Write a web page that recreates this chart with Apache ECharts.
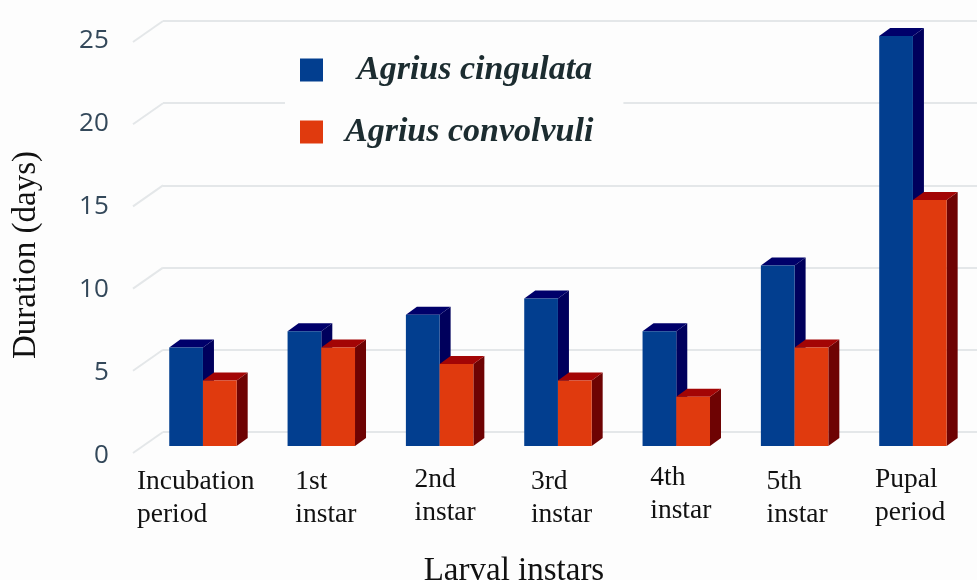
<!DOCTYPE html>
<html>
<head>
<meta charset="utf-8">
<style>
  html, body { margin: 0; padding: 0; background: #fdfdfd; }
  #chart { width: 977px; height: 580px; }
</style>
<script src="https://cdn.jsdelivr.net/npm/echarts@6/dist/echarts.min.js"></script>
</head>
<body>
<div id="chart"></div>
<script>
const categories = ["Incubation\nperiod", "1st\ninstar", "2nd\ninstar", "3rd\ninstar", "4th\ninstar", "5th\ninstar", "Pupal\nperiod"];
const cingulata = [6, 7, 8, 9, 7, 11, 25];
const convolvuli = [4, 6, 5, 4, 3, 6, 15];
const yTicks = [0, 5, 10, 15, 20, 25];
const labelLeft = [0, 40, 41, 39, 40, 38, 28];
const labelTop = [4, 4, 2, 4, 0, 4, 2];

const serif = "Liberation Serif";
const gridColor = "#e4e7e9";
const chart = echarts.init(document.getElementById("chart"));

// front face plus the two extruded faces of a bar
function barItem(side, colors) {
  return function (params, api) {
    const base = api.coord([api.value(0), 0]);
    const top = api.coord([api.value(0), api.value(1)]);
    const width = api.size([1, 0])[0] * 0.285;
    const x0 = side < 0 ? base[0] - width : base[0];
    const x1 = x0 + width;
    const dx = 11;
    const dy = 8;
    const face = (points, fill) => ({ type: "polygon", shape: { points }, style: { fill } });
    return {
      type: "group",
      children: [
        face([[x1, top[1]], [x1 + dx, top[1] - dy], [x1 + dx, base[1] - dy], [x1, base[1]]], colors.side),
        face([[x0, top[1]], [x0 + dx, top[1] - dy], [x1 + dx, top[1] - dy], [x1, top[1]]], colors.top),
        face([[x0, top[1]], [x1, top[1]], [x1, base[1]], [x0, base[1]]], colors.front),
      ],
    };
  };
}

// slanted stub of the chart floor/wall on the left of each grid line
function slantItem(params, api) {
  const start = api.coord([0, api.value(0)]);
  return {
    type: "line",
    shape: { x1: start[0], y1: start[1], x2: start[0] - 30, y2: start[1] + 21 },
    style: { stroke: gridColor, lineWidth: 2 },
  };
}

function hiddenY(gridIndex, extra) {
  return { type: "value", gridIndex, min: 0, max: 25, interval: 5, axisLine: { show: false }, axisTick: { show: false }, axisLabel: { show: false }, splitLine: { show: false }, ...extra };
}

chart.setOption({
  animation: false,
  backgroundColor: "#fdfdfd",
  legend: {
    left: 285,
    top: 45,
    orient: "vertical",
    padding: [8, 30, 8, 15],
    backgroundColor: "#fdfdfd",
    itemWidth: 23,
    itemHeight: 23,
    itemGap: 28,
    icon: "rect",
    textStyle: { fontFamily: serif, fontStyle: "italic", fontWeight: "bold", fontSize: 34, color: "#1c2c30" },
    data: [
      { name: "Agrius cingulata", textStyle: { padding: [0, 0, 16, 29] } },
      { name: "Agrius convolvuli", textStyle: { padding: [6, 0, 0, 17] } },
    ],
  },
  grid: [
    { left: 143.8, width: 828.3, top: 36, height: 410, outerBoundsMode: "none" },
    { left: 163, right: 0, top: 21, height: 411, outerBoundsMode: "none" },
    { left: 77.8, width: 828.3, top: 41, height: 415, outerBoundsMode: "none" },
  ],
  xAxis: [
    { type: "category", gridIndex: 0, data: categories, show: false },
    { type: "value", gridIndex: 1, min: 0, max: 1, show: false },
    {
      type: "category",
      gridIndex: 2,
      data: categories.map((value, i) => ({ value, textStyle: { align: "left", padding: [labelTop[i], 0, 0, labelLeft[i]] } })),
      axisLine: { show: false },
      axisTick: { show: false },
      axisLabel: { interval: 0, align: "left", margin: 5, fontFamily: serif, fontSize: 27.5, lineHeight: 33, color: "#111" },
      name: "Larval instars",
      nameLocation: "middle",
      nameGap: 99,
      nameTextStyle: { fontFamily: serif, fontSize: 33, color: "#111", padding: [0, 0, 0, 44] },
    },
  ],
  yAxis: [
    hiddenY(0),
    hiddenY(1, { splitLine: { show: true, lineStyle: { color: gridColor, width: 2 } } }),
    hiddenY(2, {
      offset: -37,
      axisLabel: { show: true, margin: 6, fontFamily: "Open Sans", fontSize: 26, color: "#33485a" },
      name: "Duration (days)",
      nameLocation: "middle",
      nameGap: 72,
      nameTextStyle: { fontFamily: serif, fontSize: 33, color: "#111", padding: [0, 13, 0, 0] },
    }),
  ],
  series: [
    { type: "custom", xAxisIndex: 1, yAxisIndex: 1, silent: true, clip: false, z: 1, data: yTicks, renderItem: slantItem, encode: { y: 0 } },
    {
      name: "Agrius cingulata",
      type: "custom",
      xAxisIndex: 0,
      yAxisIndex: 0,
      z: 3,
      itemStyle: { color: "#023e8f" },
      data: cingulata.map((v, i) => [i, v]),
      encode: { x: 0, y: 1 },
      renderItem: barItem(-1, { front: "#023e8f", top: "#00006a", side: "#00005c" }),
    },
    {
      name: "Agrius convolvuli",
      type: "custom",
      xAxisIndex: 0,
      yAxisIndex: 0,
      z: 4,
      itemStyle: { color: "#e03a0e" },
      data: convolvuli.map((v, i) => [i, v]),
      encode: { x: 0, y: 1 },
      renderItem: barItem(1, { front: "#e03a0e", top: "#a30505", side: "#6e0303" }),
    },
  ],
});
</script>
</body>
</html>
